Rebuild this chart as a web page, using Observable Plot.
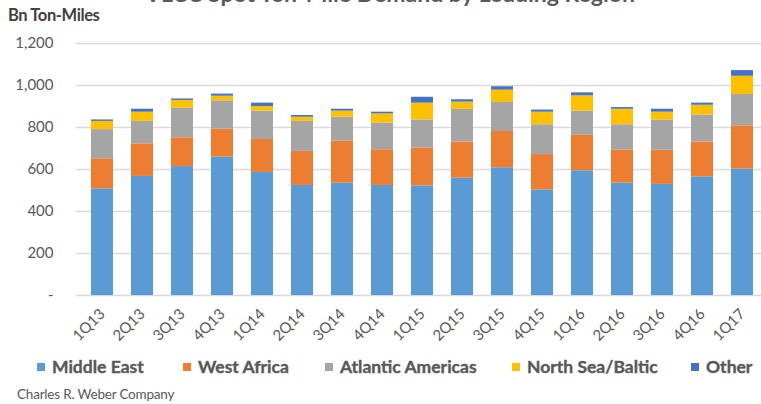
<!DOCTYPE html>
<html>
<head>
<meta charset="utf-8">
<script src="https://cdn.jsdelivr.net/npm/d3@7"></script>
<script src="https://cdn.jsdelivr.net/npm/@observablehq/plot@0.6"></script>
<style>
  html, body { margin: 0; padding: 0; background: #fff; }
  #wrap { position: relative; width: 761px; height: 404px; overflow: hidden; font-family: Lato, "Open Sans", sans-serif; }
  #title { position: absolute; left: 0; width: 780px; text-align: center; top: -18.5px; font-size: 23px; font-weight: bold; color: #595959; line-height: 23px; white-space: nowrap; }
  #ylabel { position: absolute; left: 8px; top: 5px; font-size: 16.5px; font-weight: bold; color: #404040; letter-spacing: -0.4px; }
  #chart { position: absolute; left: 0; top: 0; }
  .leg { position: absolute; top: 358px; height: 18px; font-size: 17.5px; font-weight: 700; color: #595959; white-space: nowrap; line-height: 18px; -webkit-text-stroke: 0.4px #595959; }
  .leg span.sw { position: absolute; left: 0; top: 5px; width: 8px; height: 8px; }
  .leg span.tx { position: absolute; left: 15px; top: 0; }
  #caption { position: absolute; left: 17px; top: 386px; font-size: 13.5px; color: #595959; letter-spacing: -0.2px; }
</style>
</head>
<body>
<div id="wrap">
  <div id="title">VLCC Spot Ton-Mile Demand by Loading Region</div>
  <div id="ylabel">Bn Ton-Miles</div>
  <div id="chart"></div>
  <div id="legend"></div>
  <div id="caption">Charles R. Weber Company</div>
</div>
<script>
const quarters = ["1Q13","2Q13","3Q13","4Q13","1Q14","2Q14","3Q14","4Q14","1Q15","2Q15","3Q15","4Q15","1Q16","2Q16","3Q16","4Q16","1Q17"];
const series = ["Middle East","West Africa","Atlantic Americas","North Sea/Baltic","Other"];
const colors = ["#5B9BD5","#ED7D31","#A5A5A5","#FFC000","#4472C4"];
const middleEast      = [508,567,614,659,586,524,535,524,522,559,608,503,594,535,529,565,602];
const westAfrica      = [143,155,137,133,157,162,200,170,180,172,173,168,169,157,163,166,206];
const atlanticAmericas= [139,107,141,135,135,143,114,127,134,155,138,142,115,121,144,128,149];
const northSeaBaltic  = [ 39, 44, 37, 22, 22, 20, 29, 44, 80, 35, 59, 60, 73, 74, 37, 47, 87];
const other           = [  7, 14,  7, 10, 16,  8,  9,  8, 28, 11, 16, 10, 14,  8, 14, 10, 27];
const yTicks = [0,200,400,600,800,1000,1200];
const legendX = [37, 183, 325, 512, 691];

const valuesBySeries = [middleEast, westAfrica, atlanticAmericas, northSeaBaltic, other];
const rows = [];
quarters.forEach((q, i) => {
  series.forEach((s, j) => rows.push({quarter: q, series: s, value: valuesBySeries[j][i]}));
});

const chart = Plot.plot({
  width: 761,
  height: 345,
  marginLeft: 76,
  marginRight: -6,
  marginTop: 43,
  marginBottom: 50,
  style: {fontFamily: "Lato, 'Open Sans', sans-serif", fontSize: "14px", color: "#595959", background: "transparent", overflow: "visible"},
  x: {domain: quarters, paddingInner: 0.46, paddingOuter: 0.23, label: null},
  y: {domain: [0, 1200], label: null},
  color: {domain: series, range: colors},
  marks: [
    Plot.ruleY(yTicks, {stroke: "#d9d9d9", strokeWidth: 1.5}),
    Plot.axisY({ticks: yTicks, tickSize: 0, tickPadding: 23, label: null, fill: "#595959", fontSize: 15,
      tickFormat: d => d === 0 ? "-" : d3.format(",")(d)}),
    Plot.axisX({tickSize: 0, tickPadding: 16, tickRotate: -45, label: null, fill: "#595959", fontSize: 15}),
    Plot.barY(rows, {x: "quarter", y: "value", fill: "series", order: null})
  ]
});
document.getElementById("chart").appendChild(chart);

const legend = document.getElementById("legend");
series.forEach((s, j) => {
  const d = document.createElement("div");
  d.className = "leg";
  d.style.left = legendX[j] + "px";
  d.innerHTML = `<span class="sw" style="background:${colors[j]}"></span><span class="tx">${s}</span>`;
  legend.appendChild(d);
});
</script>
</body>
</html>
